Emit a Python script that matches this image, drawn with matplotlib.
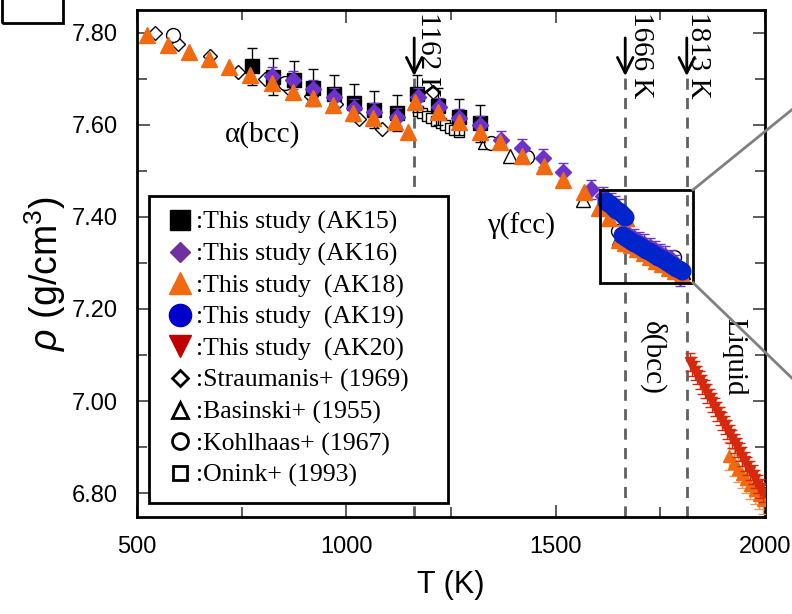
import matplotlib.pyplot as plt
from matplotlib.lines import Line2D
from matplotlib.patches import Rectangle
from matplotlib.ticker import MultipleLocator, FormatStrFormatter

plt.rcParams['font.family'] = 'Liberation Sans'
plt.rcParams['mathtext.fontset'] = 'custom'
plt.rcParams['mathtext.it'] = 'Liberation Sans:italic'
plt.rcParams['mathtext.rm'] = 'Liberation Sans'

# values (T in K, density in g/cm3)
T_ak15 = [775, 825, 875, 920, 970, 1018, 1065, 1120, 1168, 1220, 1270, 1320]
rho_ak15 = [7.727, 7.705, 7.698, 7.681, 7.668, 7.648, 7.633, 7.626, 7.668, 7.640, 7.617, 7.603]

T_ak16 = [822, 872, 920, 970, 1018, 1065, 1120, 1170, 1222, 1270, 1318, 1370, 1420, 1470, 1518, 1585,
          1612, 1622, 1632, 1642, 1652, 1662, 1675, 1688, 1700, 1712, 1725, 1738, 1750, 1762, 1775, 1788, 1798]
rho_ak16 = [7.706, 7.697, 7.677, 7.660, 7.636, 7.627, 7.617, 7.660, 7.638, 7.614, 7.600, 7.567, 7.550, 7.528, 7.497, 7.460,
            7.445, 7.438, 7.432, 7.425, 7.418, 7.368, 7.361, 7.354, 7.348, 7.342, 7.335, 7.328, 7.322, 7.316, 7.309, 7.298, 7.270]

T_ak18 = [525, 575, 625, 672, 720, 770, 822, 872, 920, 968, 1016, 1064, 1116, 1148, 1165, 1220, 1270, 1318, 1368,
          1420, 1472, 1518, 1567, 1603, 1627, 1667, 1650, 1665, 1680, 1695, 1710, 1725, 1740, 1755, 1770, 1785, 1802]
rho_ak18 = [7.796, 7.774, 7.759, 7.743, 7.726, 7.709, 7.691, 7.672, 7.659, 7.643, 7.626, 7.615, 7.607, 7.585, 7.650,
            7.628, 7.607, 7.585, 7.563, 7.533, 7.510, 7.480, 7.454, 7.420, 7.398, 7.397, 7.350, 7.344, 7.338, 7.330,
            7.322, 7.314, 7.305, 7.297, 7.290, 7.282, 7.273]
T_ak18_liq = [1915, 1925, 1935, 1945, 1955, 1965, 1975, 1985, 1995]
rho_ak18_liq = [6.880, 6.866, 6.853, 6.842, 6.830, 6.818, 6.806, 6.795, 6.785]

T_ak19 = [1620, 1625, 1630, 1635, 1640, 1645, 1650, 1655, 1660, 1665,
          1658, 1665, 1672, 1680, 1687, 1694, 1701, 1708, 1716, 1723, 1730,
          1737, 1744, 1752, 1759, 1766, 1773, 1780, 1788, 1795, 1802]
rho_ak19 = [7.435, 7.431, 7.428, 7.424, 7.420, 7.416, 7.412, 7.408, 7.404, 7.400,
            7.360, 7.356, 7.352, 7.348, 7.344, 7.341, 7.337, 7.333, 7.329, 7.325, 7.321,
            7.317, 7.314, 7.310, 7.306, 7.302, 7.298, 7.294, 7.290, 7.286, 7.282]

T_ak20 = [1820, 1826, 1832, 1838, 1844, 1850, 1856, 1862, 1868, 1874, 1880, 1886, 1892, 1898, 1904,
          1910, 1916, 1922, 1928, 1934, 1940, 1946, 1952, 1958, 1964, 1970, 1976, 1982, 1988, 1994]
rho_ak20 = [7.085, 7.075, 7.066, 7.056, 7.046, 7.036, 7.026, 7.016, 7.006, 6.997, 6.987, 6.977, 6.967, 6.957, 6.948,
            6.938, 6.928, 6.918, 6.908, 6.899, 6.889, 6.879, 6.869, 6.859, 6.849, 6.840, 6.830, 6.820, 6.810, 6.800]

T_straumanis = [543, 598, 675, 742, 805, 860, 915, 975, 1030, 1085, 1208]
rho_straumanis = [7.800, 7.775, 7.749, 7.715, 7.700, 7.680, 7.662, 7.645, 7.612, 7.592, 7.672]

T_basinski = [1330, 1390, 1565, 1650, 1705, 1805]
rho_basinski = [7.563, 7.533, 7.437, 7.355, 7.333, 7.280]

T_kohlhaas = [586, 854, 1345, 1432, 1648, 1782]
rho_kohlhaas = [7.796, 7.692, 7.560, 7.530, 7.370, 7.313]

T_onink = [1170, 1181, 1192, 1203, 1214, 1225, 1236, 1247, 1258, 1268]
rho_onink = [7.630, 7.625, 7.620, 7.614, 7.609, 7.604, 7.599, 7.594, 7.589, 7.584]

transitions = [1162, 1666, 1813]
labels = [':This study (AK15)', ':This study (AK16)', ':This study  (AK18)', ':This study  (AK19)',
          ':This study  (AK20)', ':Straumanis+ (1969)', ':Basinski+ (1955)', ':Kohlhaas+ (1967)', ':Onink+ (1993)']

orange = '#F26A10'
purple = '#6C32CC'
blue = '#0024CC'
red = '#D6280C'

fig = plt.figure(figsize=(7.92, 6.14), dpi=100)
ax = fig.add_axes([0.173, 0.158, 0.793, 0.826])

# literature data (open symbols)
ax.plot(T_onink, rho_onink, 's', ms=7, mfc='white', mec='black', mew=1, zorder=2)
ax.plot(T_straumanis, rho_straumanis, 'D', ms=7.5, mfc='white', mec='black', mew=1, zorder=2)
ax.plot(T_basinski, rho_basinski, '^', ms=10, mfc='white', mec='black', mew=1, zorder=2)
ax.plot(T_kohlhaas, rho_kohlhaas, 'o', ms=10, mfc='white', mec='black', mew=1, zorder=2)

# this study
ax.errorbar(T_ak15, rho_ak15, yerr=0.04, fmt='s', ms=10.5, color='black', ecolor='black',
            elinewidth=1, capsize=3.5, zorder=3)
ax.errorbar(T_ak16, rho_ak16, yerr=0.02, fmt='D', ms=7.8, color=purple, ecolor=purple,
            elinewidth=1, capsize=3.5, zorder=4)
ax.errorbar(T_ak18_liq, rho_ak18_liq, yerr=0.03, fmt='^', ms=8, color=orange, ecolor='#E39A5A',
            elinewidth=1, capsize=3.5, zorder=4)
ax.plot(T_ak18, rho_ak18, '^', ms=12, color=orange, zorder=5)
ax.plot(T_ak19, rho_ak19, 'o', ms=12, color=blue, zorder=6)
ax.errorbar(T_ak20, rho_ak20, yerr=0.02, fmt='v', ms=7, color=red, ecolor=red,
            elinewidth=1, capsize=3.5, zorder=6)

# phase transitions
for t in transitions:
    ax.plot([t, t], [6.748, 7.705], '--', color='#606060', lw=2, dashes=(4, 3), zorder=1)
    ax.annotate('', xy=(t, 7.700), xytext=(t, 7.795),
                arrowprops=dict(arrowstyle='->', lw=2, color='black', mutation_scale=28))
ax.text(1196, 7.845, '1162 K', rotation=270, ha='center', va='top', family='Liberation Serif', fontsize=21)
ax.text(1703, 7.845, '1666 K', rotation=270, ha='center', va='top', family='Liberation Serif', fontsize=21)
ax.text(1840, 7.845, '1813 K', rotation=270, ha='center', va='top', family='Liberation Serif', fontsize=21)

ax.text(800, 7.578, 'α(bcc)', ha='center', va='center', family='Liberation Serif', fontsize=21)
ax.text(1418, 7.380, 'γ(fcc)', ha='center', va='center', family='Liberation Serif', fontsize=21)
ax.text(1732, 7.094, 'δ(bcc)', rotation=270, ha='center', va='center', family='Liberation Serif', fontsize=21)
ax.text(1926, 7.096, 'Liquid', rotation=270, ha='center', va='center', family='Liberation Serif', fontsize=21)

# zoom box and its connector lines
ax.add_patch(Rectangle((1606, 7.257), 222, 0.202, fill=False, lw=2, ec='black', zorder=8))
ax.plot([1828, 2064], [7.459, 7.633], color='gray', lw=2, clip_on=False, zorder=8)
ax.plot([1828, 2064], [7.257, 7.050], color='gray', lw=2, clip_on=False, zorder=8)

ax.set_xlim(500, 2000)
ax.set_ylim(6.748, 7.85)
ax.xaxis.set_major_locator(MultipleLocator(500))
ax.xaxis.set_minor_locator(MultipleLocator(250))
ax.yaxis.set_major_locator(MultipleLocator(0.2))
ax.yaxis.set_minor_locator(MultipleLocator(0.1))
ax.yaxis.set_major_formatter(FormatStrFormatter('%.2f'))
ax.tick_params(which='both', direction='in', top=True, right=True, color='#404040', width=1.2)
ax.tick_params(which='major', length=9, labelsize=17)
ax.tick_params(which='minor', length=7)
ax.tick_params(axis='x', pad=14)
ax.tick_params(axis='y', pad=14)
for s in ax.spines.values():
    s.set_linewidth(2)

ax.set_xlabel('T (K)', fontsize=22, labelpad=8)
ax.set_ylabel(r'$\rho$ (g/cm$^3$)', fontsize=27)
ax.yaxis.set_label_coords(-0.11, 0.48)

handles = [
    Line2D([], [], ls='', marker='s', ms=15, color='black'),
    Line2D([], [], ls='', marker='D', ms=10.5, color='#7030A0'),
    Line2D([], [], ls='', marker='^', ms=16, color=orange),
    Line2D([], [], ls='', marker='o', ms=16, color='#0000CC'),
    Line2D([], [], ls='', marker='v', ms=16, color='#C00000'),
    Line2D([], [], ls='', marker='D', ms=8, mfc='white', mec='black', mew=2),
    Line2D([], [], ls='', marker='^', ms=11.5, mfc='white', mec='black', mew=2),
    Line2D([], [], ls='', marker='o', ms=11.5, mfc='white', mec='black', mew=2),
    Line2D([], [], ls='', marker='s', ms=10, mfc='white', mec='black', mew=2),
]
leg = ax.legend(handles, labels, loc='lower left', bbox_to_anchor=(0.019, 0.028, 0.476, 0.6),
                mode='expand', borderaxespad=0,
                prop={'family': 'Liberation Serif', 'size': 18.5}, labelspacing=0.32, handlelength=1.2,
                handletextpad=0.05, borderpad=0.6, fancybox=False, edgecolor='black', framealpha=1)
leg.get_frame().set_linewidth(2)
leg.set_zorder(10)

# partial panel-label box at the top left corner
fig.patches.append(Rectangle((0.002, 0.963), 0.078, 0.06, transform=fig.transFigure,
                             fill=False, lw=2, ec='black'))

plt.savefig('out.png', dpi=100)
